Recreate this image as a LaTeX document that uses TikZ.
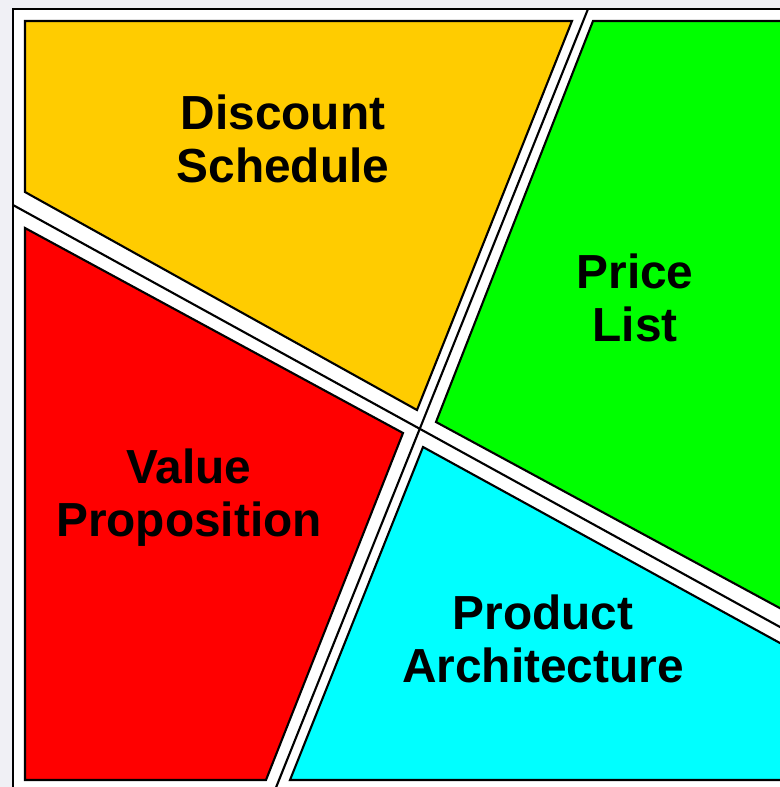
\documentclass[tikz,border=0pt]{standalone}
\usepackage{fontspec}
\setmainfont{Liberation Sans}
\usepackage{xcolor}
\usepackage{tikz}
\usetikzlibrary{positioning}

\definecolor{paper}{RGB}{240,240,245}
\definecolor{discount}{RGB}{255,204,0}
\definecolor{pricelist}{RGB}{0,255,0}
\definecolor{valueprop}{RGB}{255,0,0}
\definecolor{product}{RGB}{0,255,255}

\begin{document}
\begin{tikzpicture}[
  x=0.01cm, y=-0.01cm,
  patch/.style={draw=black, line width=0.6pt, line join=miter},
  divider/.style={draw=black, line width=0.6pt},
  label/.style={font=\fontsize{13.6}{15.1}\selectfont\bfseries, align=center,
                inner sep=0pt, text=black}
]
  \useasboundingbox (0,0) rectangle (780,787);
  \clip (0,0) rectangle (780,787);
  \fill[paper] (0,0) rectangle (780,787);
  \filldraw[fill=white, draw=black, line width=0.65pt] (13,9) rectangle (820,800);

  % the two dividing lines, frame to frame
  \draw[divider] (588,9) -- (271,800);
  \draw[divider] (13,205) -- (820,649);

  % four quadrants
  \filldraw[patch, fill=discount]  (25,21) -- (572,21) -- (417,410) -- (25,192) -- cycle;
  \filldraw[patch, fill=pricelist] (593,21) -- (800,21) -- (800,619) -- (436,422) -- cycle;
  \filldraw[patch, fill=valueprop] (25,228) -- (403,433) -- (266,780) -- (25,780) -- cycle;
  \filldraw[patch, fill=product]   (423,447) -- (800,654) -- (800,780) -- (290,780) -- cycle;

  \node[label] (ds) at (283,139) {Discount\\Schedule};
  \node[label] (pl) at (635,298) {Price\\List};
  \node[label] (vp) at (189,498) {Value\\Proposition};
  \node[label] (pa) at (543,639) {Product\\Architecture};
\end{tikzpicture}
\end{document}
